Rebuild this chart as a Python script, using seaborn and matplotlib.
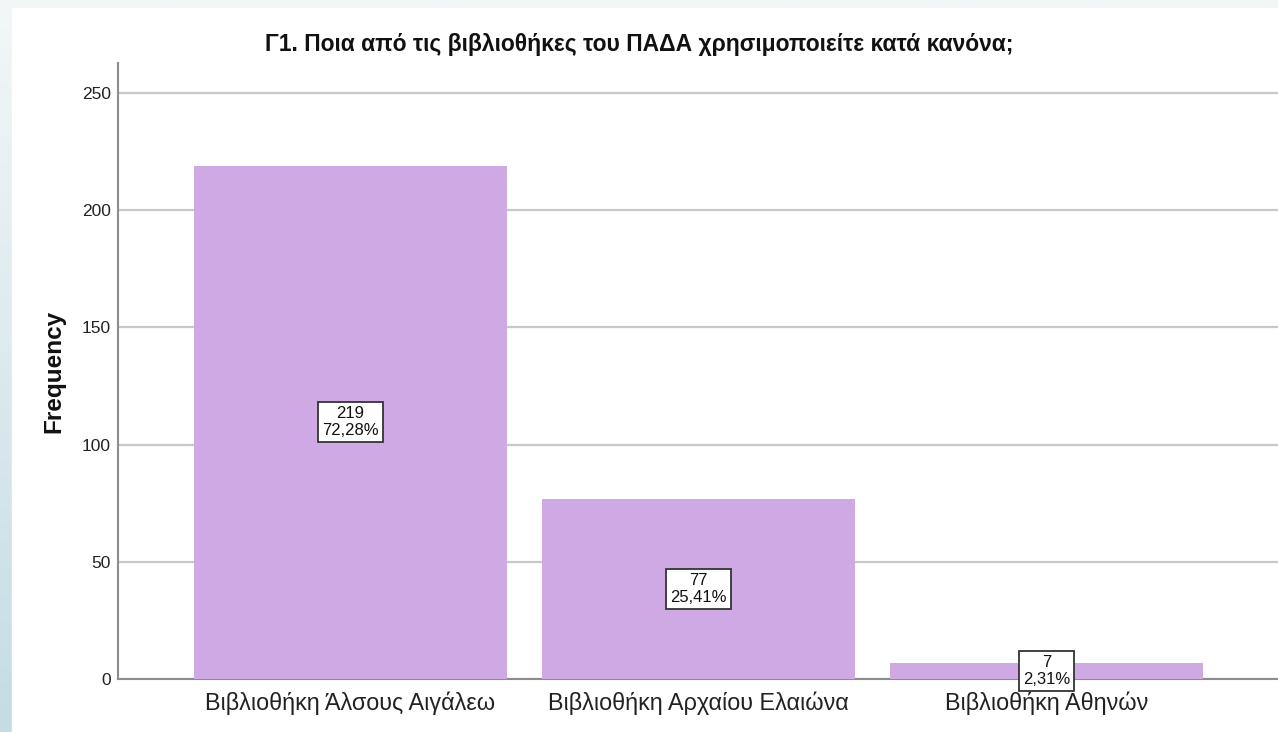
import numpy as np
import pandas as pd
import seaborn as sns
import matplotlib
matplotlib.use('Agg')
import matplotlib.pyplot as plt
from matplotlib.patches import Rectangle

# data
libraries = ['Βιβλιοθήκη Άλσους Αιγάλεω', 'Βιβλιοθήκη Αρχαίου Ελαιώνα', 'Βιβλιοθήκη Αθηνών']
counts = [219, 77, 7]
percents = ['72,28%', '25,41%', '2,31%']

df = pd.DataFrame({'library': libraries, 'count': counts})

sns.set_theme(style='white')
plt.rcParams['font.family'] = ['Liberation Sans', 'DejaVu Sans']

fig = plt.figure(figsize=(12.78, 7.32), dpi=100)

# page background: light strip at the top, blue gradient strip on the left
bg = fig.add_axes([0, 0, 1, 1], zorder=-10)
grad = np.linspace(0, 1, 256).reshape(-1, 1)
cmap = matplotlib.colors.LinearSegmentedColormap.from_list('bg', ['#f3f7f8', '#c5dce4'])
bg.imshow(grad, aspect='auto', cmap=cmap, extent=[0, 1, 0, 1], origin='upper')
bg.add_patch(Rectangle((12 / 1278, 0), 1, 1 - 8 / 732, color='white'))
bg.set_xlim(0, 1)
bg.set_ylim(0, 1)
bg.axis('off')

ax = fig.add_axes([118 / 1278, 53 / 732, 1 - 118 / 1278, (679 - 63) / 732])
ax.patch.set_alpha(0)

sns.barplot(data=df, x='library', y='count', color='#cfa9e3', saturation=1,
            width=0.9, linewidth=0, ax=ax, zorder=3)

ax.set_xlim(-0.668, 2.665)
ax.set_ylim(0, 262.8)
ax.set_yticks([0, 50, 100, 150, 200, 250])
ax.yaxis.grid(True, color='#c8c8c8', linewidth=1.6, zorder=0)
ax.set_axisbelow(True)
for s in ['top', 'right']:
    ax.spines[s].set_visible(False)
for s in ['left', 'bottom']:
    ax.spines[s].set_color('#8c8c8c')
    ax.spines[s].set_linewidth(1.5)
ax.tick_params(axis='y', length=0, labelsize=12.5, pad=5, colors='#222222')
ax.tick_params(axis='x', length=0, labelsize=16.8, pad=9, colors='#222222')
ax.set_xlabel('')
ax.set_ylabel('Frequency', fontsize=17.5, fontweight='bold', labelpad=12, color='#111111')

for i, (c, p) in enumerate(zip(counts, percents)):
    ax.text(i, c / 2, f'{c}\n{p}', ha='center', va='center', fontsize=12,
            linespacing=1.15, color='#111111', zorder=5,
            bbox=dict(boxstyle='square,pad=0.25', facecolor='white',
                      edgecolor='#333333', linewidth=1.3))

fig.text(0.5, 1 - 45 / 732, 'Γ1. Ποια από τις βιβλιοθήκες του ΠΑΔΑ χρησιμοποιείτε κατά κανόνα;',
         ha='center', va='center', fontsize=16.5, fontweight='bold', color='#111111')

plt.savefig('out.png', dpi=100)
